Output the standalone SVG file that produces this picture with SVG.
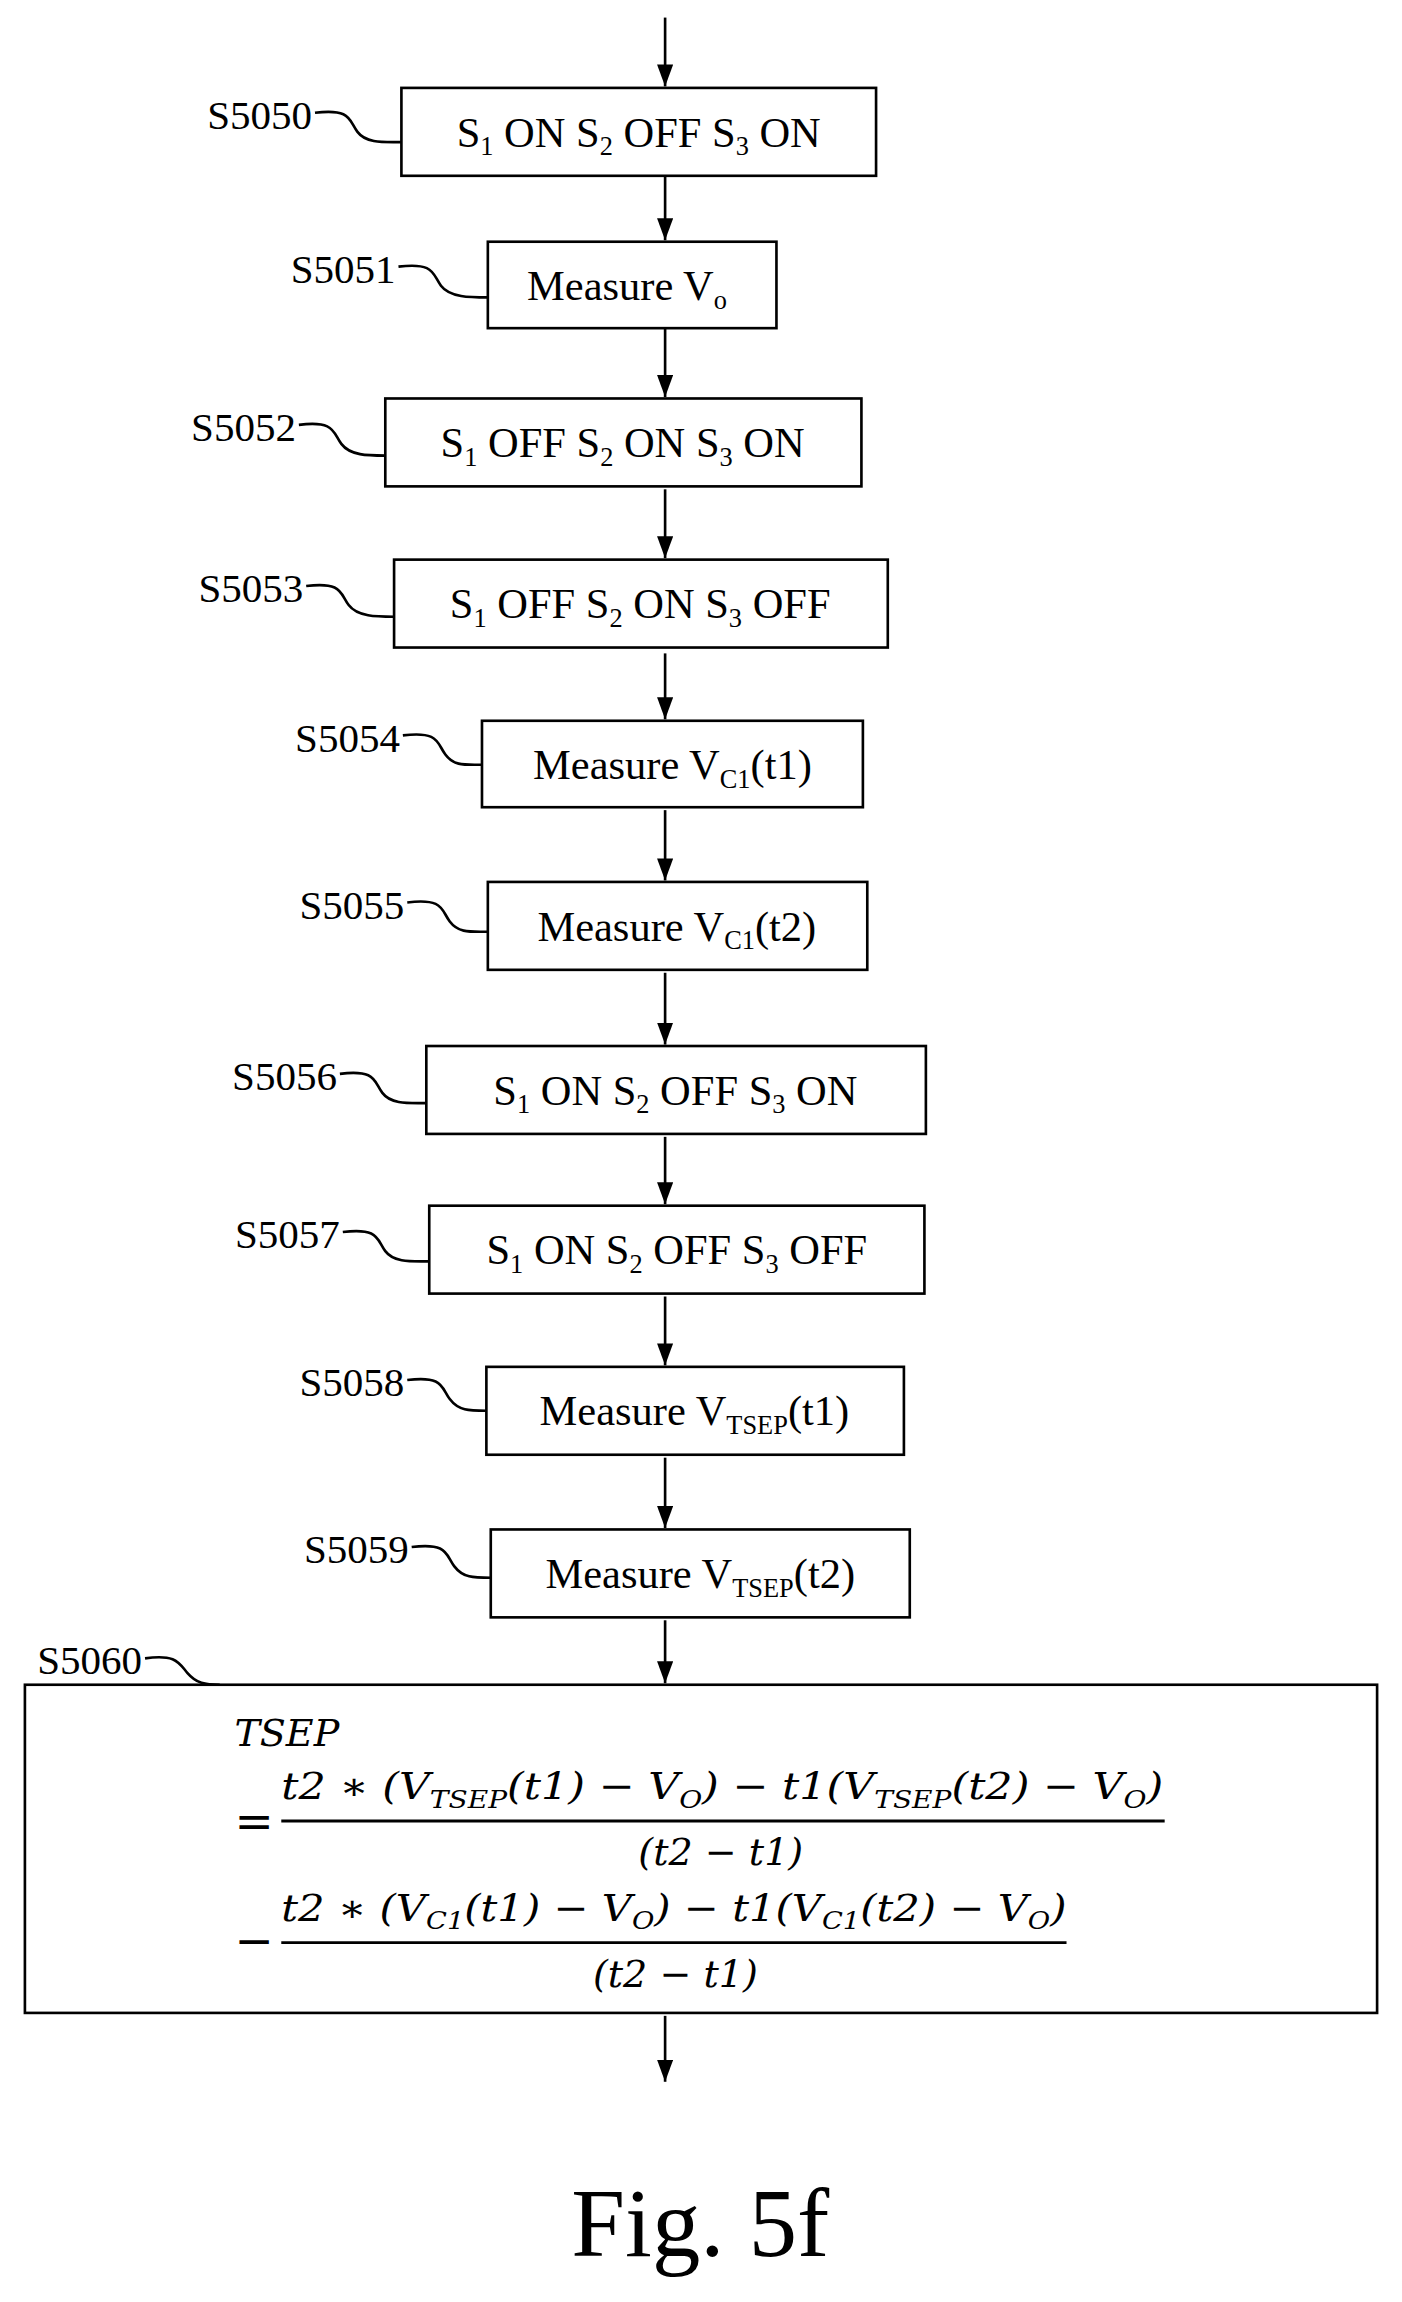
<svg xmlns="http://www.w3.org/2000/svg" width="1402" height="2302" viewBox="0 0 1402 2302">
<style>
.b{fill:#fff;stroke:#000;stroke-width:1.8}
.t{font-family:"Liberation Serif",serif;font-size:29px;fill:#000}
.l{font-family:"Liberation Serif",serif;font-size:28px;fill:#000}
.s{font-size:18px}
.m{font-family:"DejaVu Serif","Liberation Serif",serif;font-style:italic;font-size:26px;fill:#000}
.ms{font-size:17px}
.c{fill:none;stroke:#000;stroke-width:1.8}
.w{fill:none;stroke:#000;stroke-width:1.8}
</style>
<defs><marker id="a" markerWidth="15" markerHeight="11" refX="15" refY="5.5" orient="auto" markerUnits="userSpaceOnUse"><path d="M0,0 L15,5.5 L0,11 Z" fill="#000"/></marker></defs>
<rect width="1402" height="2302" fill="#fff"/>
<g transform="scale(1.465)">
<g id="connectors">
<line class="c" x1="454" y1="12" x2="454" y2="59" marker-end="url(#a)"/>
<line class="c" x1="454" y1="120" x2="454" y2="164" marker-end="url(#a)"/>
<line class="c" x1="454" y1="224" x2="454" y2="271" marker-end="url(#a)"/>
<line class="c" x1="454" y1="334" x2="454" y2="381" marker-end="url(#a)"/>
<line class="c" x1="454" y1="446" x2="454" y2="491" marker-end="url(#a)"/>
<line class="c" x1="454" y1="553" x2="454" y2="601" marker-end="url(#a)"/>
<line class="c" x1="454" y1="664" x2="454" y2="713" marker-end="url(#a)"/>
<line class="c" x1="454" y1="776" x2="454" y2="822" marker-end="url(#a)"/>
<line class="c" x1="454" y1="885" x2="454" y2="932" marker-end="url(#a)"/>
<line class="c" x1="454" y1="995" x2="454" y2="1043" marker-end="url(#a)"/>
<line class="c" x1="454" y1="1106" x2="454" y2="1149" marker-end="url(#a)"/>
<line class="c" x1="454" y1="1376" x2="454" y2="1421" marker-end="url(#a)"/>
</g>
<g id="S5050"><rect class="b" x="274" y="60" width="324" height="60"/>
<text class="t" x="436" y="100" text-anchor="middle">S<tspan class="s" dy="6">1</tspan><tspan dy="-6"> ON S</tspan><tspan class="s" dy="6">2</tspan><tspan dy="-6"> OFF S</tspan><tspan class="s" dy="6">3</tspan><tspan dy="-6"> ON</tspan></text>
<text class="l" x="213" y="88" text-anchor="end">S5050</text><path class="w" d="M215,77 C240,74 238,82 244,90 C250,98 262,97 274,97"/></g>
<g id="S5051"><rect class="b" x="333" y="165" width="197" height="59"/>
<text class="t" x="428" y="205" text-anchor="middle">Measure V<tspan class="s" dy="6">o</tspan></text>
<text class="l" x="270" y="193" text-anchor="end">S5051</text><path class="w" d="M272,182 C297,179 295,187 301,195 C307,203 321,203 333,203"/></g>
<g id="S5052"><rect class="b" x="263" y="272" width="325" height="60"/>
<text class="t" x="425" y="312" text-anchor="middle">S<tspan class="s" dy="6">1</tspan><tspan dy="-6"> OFF S</tspan><tspan class="s" dy="6">2</tspan><tspan dy="-6"> ON S</tspan><tspan class="s" dy="6">3</tspan><tspan dy="-6"> ON</tspan></text>
<text class="l" x="202" y="301" text-anchor="end">S5052</text><path class="w" d="M204,290 C229,287 227,295 233,303 C239,311 251,311 263,311"/></g>
<g id="S5053"><rect class="b" x="269" y="382" width="337" height="60"/>
<text class="t" x="437" y="422" text-anchor="middle">S<tspan class="s" dy="6">1</tspan><tspan dy="-6"> OFF S</tspan><tspan class="s" dy="6">2</tspan><tspan dy="-6"> ON S</tspan><tspan class="s" dy="6">3</tspan><tspan dy="-6"> OFF</tspan></text>
<text class="l" x="207" y="411" text-anchor="end">S5053</text><path class="w" d="M209,400 C234,397 232,405 238,413 C244,421 257,421 269,421"/></g>
<g id="S5054"><rect class="b" x="329" y="492" width="260" height="59"/>
<text class="t" x="459" y="532" text-anchor="middle">Measure V<tspan class="s" dy="6">C1</tspan><tspan dy="-6">(t1)</tspan></text>
<text class="l" x="273" y="513" text-anchor="end">S5054</text><path class="w" d="M275,502 C300,499 298,507 304,515 C310,523 317,522 329,522"/></g>
<g id="S5055"><rect class="b" x="333" y="602" width="259" height="60"/>
<text class="t" x="462" y="642" text-anchor="middle">Measure V<tspan class="s" dy="6">C1</tspan><tspan dy="-6">(t2)</tspan></text>
<text class="l" x="276" y="627" text-anchor="end">S5055</text><path class="w" d="M278,616 C303,613 301,621 307,629 C313,637 321,636 333,636"/></g>
<g id="S5056"><rect class="b" x="291" y="714" width="341" height="60"/>
<text class="t" x="461" y="754" text-anchor="middle">S<tspan class="s" dy="6">1</tspan><tspan dy="-6"> ON S</tspan><tspan class="s" dy="6">2</tspan><tspan dy="-6"> OFF S</tspan><tspan class="s" dy="6">3</tspan><tspan dy="-6"> ON</tspan></text>
<text class="l" x="230" y="744" text-anchor="end">S5056</text><path class="w" d="M232,733 C257,730 255,738 261,746 C267,754 279,753 291,753"/></g>
<g id="S5057"><rect class="b" x="293" y="823" width="338" height="60"/>
<text class="t" x="462" y="863" text-anchor="middle">S<tspan class="s" dy="6">1</tspan><tspan dy="-6"> ON S</tspan><tspan class="s" dy="6">2</tspan><tspan dy="-6"> OFF S</tspan><tspan class="s" dy="6">3</tspan><tspan dy="-6"> OFF</tspan></text>
<text class="l" x="232" y="852" text-anchor="end">S5057</text><path class="w" d="M234,841 C259,838 257,846 263,854 C269,862 281,861 293,861"/></g>
<g id="S5058"><rect class="b" x="332" y="933" width="285" height="60"/>
<text class="t" x="474" y="973" text-anchor="middle">Measure V<tspan class="s" dy="6">TSEP</tspan><tspan dy="-6">(t1)</tspan></text>
<text class="l" x="276" y="953" text-anchor="end">S5058</text><path class="w" d="M278,942 C303,939 301,947 307,955 C313,963 320,963 332,963"/></g>
<g id="S5059"><rect class="b" x="335" y="1044" width="286" height="60"/>
<text class="t" x="478" y="1084" text-anchor="middle">Measure V<tspan class="s" dy="6">TSEP</tspan><tspan dy="-6">(t2)</tspan></text>
<text class="l" x="279" y="1067" text-anchor="end">S5059</text><path class="w" d="M281,1056 C306,1053 304,1061 310,1069 C316,1077 323,1077 335,1077"/></g>
<g id="S5060"><rect class="b" x="17" y="1150" width="923" height="224"/>
<text class="l" x="97" y="1143" text-anchor="end">S5060</text><path class="w" d="M99,1132 C120,1129 122,1135 128,1142 C134,1149 140,1150 150,1150"/>
<text class="m" x="160" y="1192">TSEP</text>
<text class="m" x="160" y="1254" style="font-style:normal;font-size:32px">=</text>
<text class="m" x="192" y="1228" textLength="602" lengthAdjust="spacingAndGlyphs">t2 ∗ (V<tspan class="ms" dy="6">TSEP</tspan><tspan dy="-6">(t1) − V</tspan><tspan class="ms" dy="6">O</tspan><tspan dy="-6">) − t1(V</tspan><tspan class="ms" dy="6">TSEP</tspan><tspan dy="-6">(t2) − V</tspan><tspan class="ms" dy="6">O</tspan><tspan dy="-6">)</tspan></text>
<line x1="192" y1="1243" x2="795" y2="1243" stroke="#000" stroke-width="2"/>
<text class="m" x="492" y="1273" text-anchor="middle">(t2 − t1)</text>
<text class="m" x="160" y="1336" style="font-style:normal;font-size:32px">−</text>
<text class="m" x="192" y="1311" textLength="536" lengthAdjust="spacingAndGlyphs">t2 ∗ (V<tspan class="ms" dy="6">C1</tspan><tspan dy="-6">(t1) − V</tspan><tspan class="ms" dy="6">O</tspan><tspan dy="-6">) − t1(V</tspan><tspan class="ms" dy="6">C1</tspan><tspan dy="-6">(t2) − V</tspan><tspan class="ms" dy="6">O</tspan><tspan dy="-6">)</tspan></text>
<line x1="192" y1="1326" x2="728" y2="1326" stroke="#000" stroke-width="2"/>
<text class="m" x="461" y="1356" text-anchor="middle">(t2 − t1)</text>
</g>
<text x="478" y="1540" text-anchor="middle" font-family="Liberation Serif,serif" font-size="66">Fig. 5f</text>
</g>
</svg>
